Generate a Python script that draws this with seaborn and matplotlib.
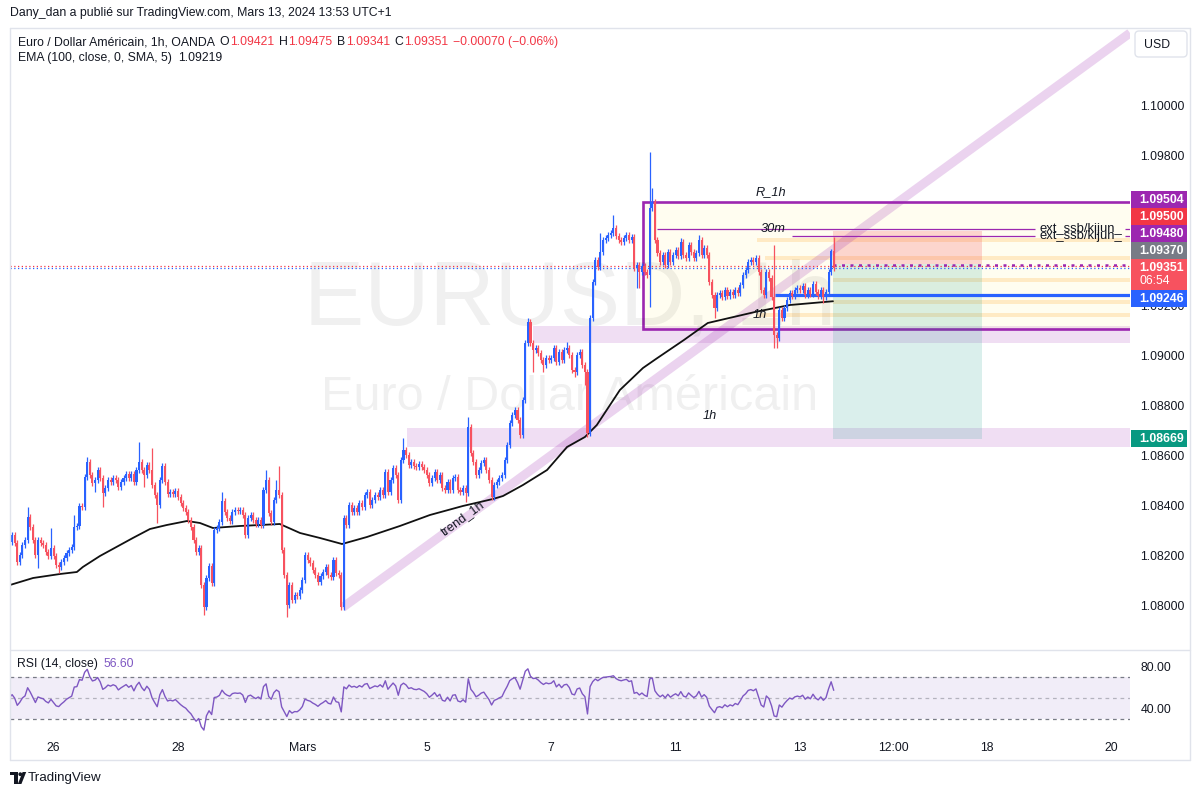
import numpy as np
import pandas as pd
import matplotlib
matplotlib.use("Agg")
import matplotlib.pyplot as plt
from matplotlib.patches import Rectangle, FancyBboxPatch, Circle, Polygon
import seaborn as sns

# ---------------------------------------------------------------- data
BASE = 1.08000                 # prices below are pips above this
FIRST_INDEX = -17              # hourly candles, 0 = Feb 26 00:00
FIRST_OPEN_PIPS = 23.2
close_pips = [
    # Feb 23 (end)
    25.6, 28.4, 25.2, 17.6, 20.4, 24.4, 26.4, 35.6, 31.6, 26.4, 20.4, 26.4, 25.2, 24.4, 21.6, 20.0, 23.2,
    # Feb 26
    20.0, 16.4, 15.6, 17.6, 19.2, 21.2, 22.4, 23.6, 31.6, 32.0, 40.0, 39.6,
    51.6, 57.6, 52.4, 49.2, 50.4, 54.4, 51.2, 45.2, 47.2, 50.4, 49.6, 51.2,
    # Feb 27
    50.4, 47.6, 49.6, 51.2, 52.8, 51.2, 52.8, 49.6, 54.4, 57.6, 54.4, 52.4,
    56.4, 54.4, 48.4, 44.4, 40.4, 50.4, 56.0, 49.6, 44.8, 45.6, 44.8, 46.0,
    # Feb 28
    43.6, 41.2, 39.2, 37.6, 34.4, 31.6, 26.4, 21.6, 23.2, 8.4, -0.4, 11.2,
    16.0, 9.2, 30.4, 31.2, 33.6, 42.0, 37.6, 35.2, 34.0, 37.6, 38.4, 38.0,
    # Feb 29
    38.4, 36.4, 28.4, 35.2, 36.4, 34.4, 32.8, 34.4, 32.4, 46.4, 50.4, 37.2,
    33.6, 42.4, 46.4, 44.4, 22.4, 12.4, 0.4, 8.4, 2.4, 4.4, 4.0, 6.4,
    # Mar 1
    10.4, 20.4, 18.4, 17.2, 14.4, 12.4, 9.6, 12.0, 13.6, 15.6, 12.4, 11.6,
    18.4, 13.2, 12.4, -0.4, 35.2, 32.4, 40.4, 37.6, 39.2, 37.6, 41.2, 39.6,
    # Mar 4
    44.4, 45.6, 40.4, 42.4, 44.4, 43.6, 46.4, 44.4, 53.6, 45.6, 50.4, 55.2,
    52.4, 42.4, 58.4, 62.4, 60.4, 56.4, 57.6, 56.0, 55.6, 56.8, 55.6, 54.4,
    # Mar 5
    52.4, 49.2, 51.2, 53.6, 50.4, 52.4, 47.2, 46.4, 49.6, 46.4, 51.2, 51.6,
    46.4, 45.6, 47.2, 45.2, 71.6, 61.2, 57.6, 52.4, 54.4, 57.2, 58.4, 54.4,
    # Mar 6
    50.4, 43.6, 48.4, 49.6, 51.2, 52.4, 58.4, 64.4, 73.2, 76.4, 78.4, 74.4,
    68.4, 82.4, 105.2, 113.6, 105.2, 102.4, 103.2, 101.2, 98.4, 96.4, 99.2, 98.4,
    # Mar 7
    99.2, 103.2, 97.6, 101.6, 98.4, 102.4, 103.2, 100.4, 94.4, 93.6, 100.4, 101.6,
    96.4, 93.6, 69.2, 115.2, 129.6, 138.4, 135.6, 141.6, 146.4, 147.2, 148.4, 149.2,
    # Mar 8
    151.2, 148.0, 146.4, 145.6, 147.2, 148.4, 146.4, 147.6, 135.2, 136.4, 133.6, 136.0,
    133.6, 132.4, 159.2, 161.6, 146.4, 141.2, 137.6, 140.4, 136.4, 141.6, 137.6, 140.4,
    # Mar 11
    142.4, 140.0, 145.6, 140.4, 139.2, 144.4, 141.6, 139.2, 141.2, 146.4, 140.4, 143.2,
    140.4, 129.6, 124.4, 119.2, 124.4, 125.2, 123.6, 126.4, 124.0, 125.6, 124.4, 126.4,
    # Mar 12
    125.2, 128.4, 132.4, 134.4, 137.6, 138.4, 137.6, 139.2, 133.6, 126.4, 124.4, 133.6,
    131.2, 123.6, 108.4, 107.2, 118.4, 115.2, 119.2, 122.4, 125.2, 124.0, 126.4, 127.2,
    # Mar 13
    126.4, 128.0, 124.4, 126.4, 124.8, 128.8, 125.6, 124.0, 126.4, 123.6, 125.6, 133.6,
    142.1, 135.1,
]
high_pips = {-10: 39.6, -1: 31.2, 8: 36.4, 13: 59.6, 33: 65.6, 38: 63.2, 65: 45.6,
             82: 54.4, 86: 50.4, 87: 56.0, 135: 67.2, 160: 75.6, 183: 115.2, 198: 105.6,
             211: 149.2, 216: 156.4, 230: 181.6, 231: 167.2, 242: 147.2, 249: 148.4,
             278: 144.4, 300: 143.0, 301: 147.5}
low_pips = {-6: 15.2, 2: 13.2, 16: 45.6, 19: 39.6, 35: 47.6, 40: 33.2, 58: -3.6,
            90: -4.4, 111: -1.6, 159: 41.6, 185: 93.6, 189: 93.6, 201: 91.6, 205: 88.4,
            206: 67.6, 225: 127.2, 226: 127.2, 230: 119.6, 255: 115.2, 278: 103.2,
            279: 103.2, 297: 121.2, 301: 134.1}
WICK_PIPS = 1.2

# EMA(100) readings (candle index, pips)
ema_idx = [-16.8, -7.9, 2.5, 9.0, 11.3, 17.9, 30.6, 37.2, 43.7, 51.5, 56.5, 61.5, 71.9,
           87.3, 95.1, 102.8, 111.3, 120.9, 133.6, 145.2, 157.9, 169.5, 173.4, 181.1,
           190.4, 198.1, 205.0, 209.6, 218.5, 227.4, 232.4, 243.2, 252.4, 270.6, 284.1, 300.7]
ema_pips = [8.4, 11.2, 12.8, 13.6, 15.6, 20.0, 27.2, 30.8, 32.4, 34.0, 33.2, 31.2, 32.0,
            32.8, 29.2, 27.2, 24.8, 27.6, 32.0, 36.4, 40.0, 42.8, 44.0, 48.4,
            54.4, 63.6, 67.6, 72.4, 86.4, 95.2, 98.8, 106.4, 113.2, 117.6, 120.4, 121.9]
RSI_LEN = 14
RSI_SEED_PIPS = 2.0

time_tick_idx = [0, 48, 96, 144, 192, 240, 288, 324, 360, 408]
time_tick_labels = ["26", "28", "Mars", "5", "7", "11", "13", "12:00", "18", "20"]
# 1.09400 / 1.09600 sit fully behind the price tags in the reference
price_ticks = [1.080, 1.082, 1.084, 1.086, 1.088, 1.090, 1.092, 1.098, 1.100]
rsi_ticks = [40, 80]
rsi_levels = [70, 50, 30]

# drawings
zone_low = (136.4, 1.08637, 1.08712)        # start idx, bottom, top
zone_high = (185.0, 1.09052, 1.09120)
box_r1h = (227.4, 1.09109, 1.09616)
orange_levels = [1.09464, 1.09392, 1.09304, 1.09216, 1.09164]
orange_start = [271.4, 274.5, 300.7, 300.7, 271.4]
ssb_levels = [1.09508, 1.09480]
ssb_start = [232.8, 284.9]
ssb_text_idx = 380.5
blue_level, blue_start = 1.09246, 278.5
pos_left, pos_right = 300.7, 358.2
pos_stop, pos_entry, pos_target = 1.09500, 1.09370, 1.08669
trend_pts = [(111.5, 1.07994), (415.3, 1.10292)]
labels_italic = [("R_1h", 276.8, 1.09656), ("30m", 277.6, 1.09508),
                 ("1h", 272.5, 1.09164), ("1h", 253.2, 1.08760)]
cur_price = 1.09351
price_tags = [(1.09504, '#9C27B0'), (1.09500, '#F23645'), (1.09480, '#9C27B0'),
              (1.09370, '#787B86'), (1.09246, '#2962FF'), (1.08669, '#089981')]
legend_vals = [("O", "1.09421"), ("H", "1.09475"), ("B", "1.09341"), ("C", "1.09351")]

# ---------------------------------------------------------------- style
sns.set_theme(style="white")
plt.rcParams['font.family'] = ['Liberation Sans', 'DejaVu Sans']
UP, DN = '#2962FF', '#F7525F'
TXT = '#131722'
FS = 8.8

W, H = 1201, 797
fig = plt.figure(figsize=(W / 100, H / 100), dpi=100, facecolor='white')


def add_ax(x0, y0, x1, y1):
    return fig.add_axes([x0 / W, 1 - y1 / H, (x1 - x0) / W, (y1 - y0) / H])


ax = add_ax(10, 28, 1130, 649)
axr = add_ax(10, 651, 1130, 735)
ov = add_ax(0, 0, W, H)
ov.set_xlim(0, W)
ov.set_ylim(H, 0)
ov.axis('off')
ov.patch.set_visible(False)
ov.set_zorder(10)

XL, XR = -16.8, 415.3
for a in (ax, axr):
    a.set_xlim(XL, XR)
    a.set_facecolor('white')
    for s in a.spines.values():
        s.set_visible(False)
ax.set_ylim(1.07828, 1.10312)
axr.set_ylim(14.3, 94.3)

# ---------------------------------------------------------------- candles
n = len(close_pips)
idx = np.arange(FIRST_INDEX, FIRST_INDEX + n)
c = BASE + np.array(close_pips) / 1e4
o = np.r_[BASE + FIRST_OPEN_PIPS / 1e4, c[:-1]]
hi = np.maximum(o, c) + WICK_PIPS / 1e4
lo = np.minimum(o, c) - WICK_PIPS / 1e4
for k, v in high_pips.items():
    hi[k - FIRST_INDEX] = BASE + v / 1e4
for k, v in low_pips.items():
    lo[k - FIRST_INDEX] = BASE + v / 1e4
cols = np.where(c >= o, UP, DN)
body_b = np.minimum(o, c)
body_h = np.maximum(np.abs(c - o), 0.00004)
ax.vlines(idx, lo, hi, colors=cols, linewidth=0.9, zorder=5)
ax.bar(idx, body_h, bottom=body_b, width=0.8, color=cols, linewidth=0, zorder=6)

# ---------------------------------------------------------------- drawings
XEND = XR + 5
ax.add_patch(Rectangle((box_r1h[0], box_r1h[1]), XEND - box_r1h[0], box_r1h[2] - box_r1h[1],
                       facecolor='#FFFDF0', edgecolor='#9C27B0', linewidth=1.9, zorder=1.2))
for z in (zone_low, zone_high):
    ax.add_patch(Rectangle((z[0], z[1]), XEND - z[0], z[2] - z[1],
                           facecolor='#9C27B0', alpha=0.15, linewidth=0, zorder=1.5))
for lv, st in zip(orange_levels, orange_start):
    ax.add_patch(Rectangle((st, lv - 0.00008), XEND - st, 0.00016,
                           facecolor='#FF9800', alpha=0.18, linewidth=0, zorder=1.6))
# position tool
ax.add_patch(Rectangle((pos_left, pos_entry), pos_right - pos_left, pos_stop - pos_entry,
                       facecolor='#F23645', alpha=0.2, linewidth=0, zorder=3))
ax.add_patch(Rectangle((pos_left, pos_target), pos_right - pos_left, pos_entry - pos_target,
                       facecolor='#089981', alpha=0.15, linewidth=0, zorder=3))
# trend line
(tx1, ty1), (tx2, ty2) = trend_pts
ax.plot([tx1, tx2], [ty1, ty2], color='#9C27B0', alpha=0.2, linewidth=6.5,
        solid_capstyle='butt', zorder=3.5)
# ssb/kijun lines
for lv, st in zip(ssb_levels, ssb_start):
    ax.hlines(lv, st, ssb_text_idx - 1.8, colors='#9C27B0', linewidth=0.9, zorder=4)
    ax.hlines(lv, 413.3, XEND, colors='#9C27B0', linewidth=0.9, zorder=4)
    ax.text(ssb_text_idx, lv, "ext_ssb/kijun_", fontsize=9.4, color=TXT, va='center',
            ha='left', zorder=8)
# blue horizontal line
ax.hlines(blue_level, blue_start, XEND, colors='#2962FF', linewidth=2.3, zorder=4)
# price lines (dotted)
ax.axhline(cur_price + 0.0001, color='#F23645', linewidth=0.9, linestyle=(0, (1, 2)), zorder=4)
ax.axhline(cur_price, color='#2962FF', linewidth=0.9, linestyle=(0, (1, 2)), zorder=4)
ax.hlines(pos_entry - 0.00004, pos_left, XEND, colors='#9C27B0', linewidth=1.8,
          linestyles=(0, (1.2, 2.2)), zorder=4)

# EMA
sns.lineplot(x=ema_idx, y=BASE + np.array(ema_pips) / 1e4, ax=ax, color='#111111',
             linewidth=1.3, zorder=4.5, legend=False)

# watermark
ax.text(0.5, 0.522, "EURUSD, 1h", transform=ax.transAxes, ha='center', va='baseline',
        fontsize=65, color='black', alpha=0.06, zorder=2.5)
ax.text(0.5, 0.385, "Euro / Dollar Américain", transform=ax.transAxes, ha='center',
        va='baseline', fontsize=35, color='black', alpha=0.06, zorder=2.5)

# italic labels
for t, xi, yp in labels_italic:
    ax.text(xi, yp, t, fontsize=9.2, style='italic', color=TXT, ha='center', va='center',
            zorder=8)
# trend label, rotated along line
p1 = ax.transData.transform((tx1, ty1))
p2 = ax.transData.transform((tx2, ty2))
ang = np.degrees(np.arctan2(p2[1] - p1[1], p2[0] - p1[0]))
lx = 158.0
ly = ty1 + (ty2 - ty1) * (lx - tx1) / (tx2 - tx1) + 0.00006
ax.text(lx, ly, "trend_1h", rotation=ang, rotation_mode='anchor', ha='center', va='center',
        fontsize=9.2, color=TXT, zorder=8)

# axis ticks main
ax.set_xticks([])
ax.set_yticks(price_ticks)
ax.set_yticklabels([f"{p:.5f}" for p in price_ticks])
ax.yaxis.tick_right()
ax.tick_params(axis='y', length=0, pad=7.5, labelsize=FS, labelcolor=TXT)

# ---------------------------------------------------------------- RSI
d = np.diff(c, prepend=c[0])
gain = np.clip(d, 0, None)
loss = np.clip(-d, 0, None)
ag, al = RSI_SEED_PIPS / 1e4, RSI_SEED_PIPS / 1e4
rsi = np.empty(n)
for i in range(n):
    ag = (ag * (RSI_LEN - 1) + gain[i]) / RSI_LEN
    al = (al * (RSI_LEN - 1) + loss[i]) / RSI_LEN
    rsi[i] = 100 - 100 / (1 + ag / al) if al > 0 else 100
axr.axhspan(rsi_levels[2], rsi_levels[0], color='#7E57C2', alpha=0.1, linewidth=0, zorder=1)
for lv in rsi_levels:
    axr.axhline(lv, color='#787B86', linewidth=0.9, linestyle=(0, (3, 3)),
                alpha=0.5 if lv == 50 else 1.0, zorder=2)
sns.lineplot(x=idx, y=rsi, ax=axr, color='#7E57C2', linewidth=1.0, zorder=3, legend=False)
axr.set_yticks(rsi_ticks)
axr.set_yticklabels([f"{v:.2f}" for v in rsi_ticks])
axr.yaxis.tick_right()
axr.tick_params(axis='y', length=0, pad=7.5, labelsize=FS, labelcolor=TXT)
axr.set_xticks(time_tick_idx)
axr.set_xticklabels(time_tick_labels)
axr.tick_params(axis='x', length=0, pad=5, labelsize=FS, labelcolor=TXT)
axr.set_xlabel("")
axr.set_ylabel("")
ax.set_xlabel("")
ax.set_ylabel("")

# ---------------------------------------------------------------- overlay: frame, text, tags
fr = '#E0E3EB'
ov.plot([10, 1190], [28, 28], color=fr, lw=1)
ov.plot([10, 1190], [760, 760], color=fr, lw=1)
ov.plot([10, 10], [28, 760], color=fr, lw=1)
ov.plot([1190, 1190], [28, 760], color=fr, lw=1)
ov.plot([10, 1190], [650, 650], color=fr, lw=1)

renderer = fig.canvas.get_renderer()


def chain(x, y, pieces, **kw):
    for text, color, gap in pieces:
        t = ov.text(x, y, text, color=color, va='center', ha='left', fontsize=FS, **kw)
        bb = t.get_window_extent(renderer)
        x = ov.transData.inverted().transform((bb.x1, bb.y0))[0] + gap


ov.text(10, 13, "Dany_dan a publié sur TradingView.com, Mars 13, 2024 13:53 UTC+1",
        fontsize=FS, color=TXT, va='center', ha='left')
pieces = [("Euro / Dollar Américain, 1h, OANDA", TXT, 5)]
for letter, val in legend_vals:
    pieces += [(letter, TXT, 0.3), (val, '#F23645', 5)]
pieces += [("\u22120.00070 (\u22120.06%)", '#F23645', 0)]
chain(18, 42, pieces)
chain(18, 58, [("EMA (100, close, 0, SMA, 5)", TXT, 6), ("1.09219", TXT, 0)])
chain(17, 664, [("RSI (14, close)", TXT, 6), ("56.60", '#7E57C2', 0)])

# USD button
ov.add_patch(FancyBboxPatch((1135, 31), 52, 26, boxstyle="round,pad=0,rounding_size=4",
                            facecolor='white', edgecolor=fr, linewidth=1))
ov.text(1144, 44.5, "USD", fontsize=FS, color=TXT, va='center', ha='left')


def ypix(price):
    disp = ax.transData.transform((0, price))
    return ov.transData.inverted().transform(disp)[1]


TAG_H = 17


def draw_tag(top, h, color, lines):
    ov.add_patch(Rectangle((1131, top), 56, h, facecolor=color, edgecolor='none', zorder=5))
    for k, (txt, bold) in enumerate(lines):
        ov.text(1139, top + 8.5 + 13 * k, txt, color='white', fontsize=FS,
                fontweight='bold' if bold else 'normal', va='center', ha='left', zorder=6)


ay = ypix(cur_price)
a_top = ay - 9
a_bot = a_top + 31
draw_tag(a_top, 31, '#F7525F', [(f"{cur_price:.5f}", True), ("06:54", False)])
above = sorted([t for t in price_tags if ypix(t[0]) < ay], key=lambda t: -ypix(t[0]))
below = sorted([t for t in price_tags if ypix(t[0]) >= ay], key=lambda t: ypix(t[0]))
bound = a_top
for p, col in above:
    bot = min(ypix(p) + TAG_H / 2, bound)
    top = bot - TAG_H
    bound = top
    draw_tag(top, TAG_H, col, [(f"{p:.5f}", True)])
bound = a_bot
for p, col in below:
    top = max(ypix(p) - TAG_H / 2, bound)
    bound = top + TAG_H
    draw_tag(top, TAG_H, col, [(f"{p:.5f}", True)])

# footer logo + name
ov.add_patch(Rectangle((10, 772), 7.5, 3.2, facecolor=TXT, edgecolor='none'))
ov.add_patch(Rectangle((13.6, 772), 3.9, 12, facecolor=TXT, edgecolor='none'))
ov.add_patch(Circle((20.3, 774.2), 1.9, facecolor=TXT, edgecolor='none'))
ov.add_patch(Polygon([(22.6, 772), (26.2, 772), (21.4, 784), (17.8, 784)], closed=True,
                     facecolor=TXT, edgecolor='none'))
ov.text(28, 778.5, "TradingView", fontsize=9.6, color=TXT, va='center', ha='left')

fig.savefig("out.png", dpi=100, facecolor='white')
